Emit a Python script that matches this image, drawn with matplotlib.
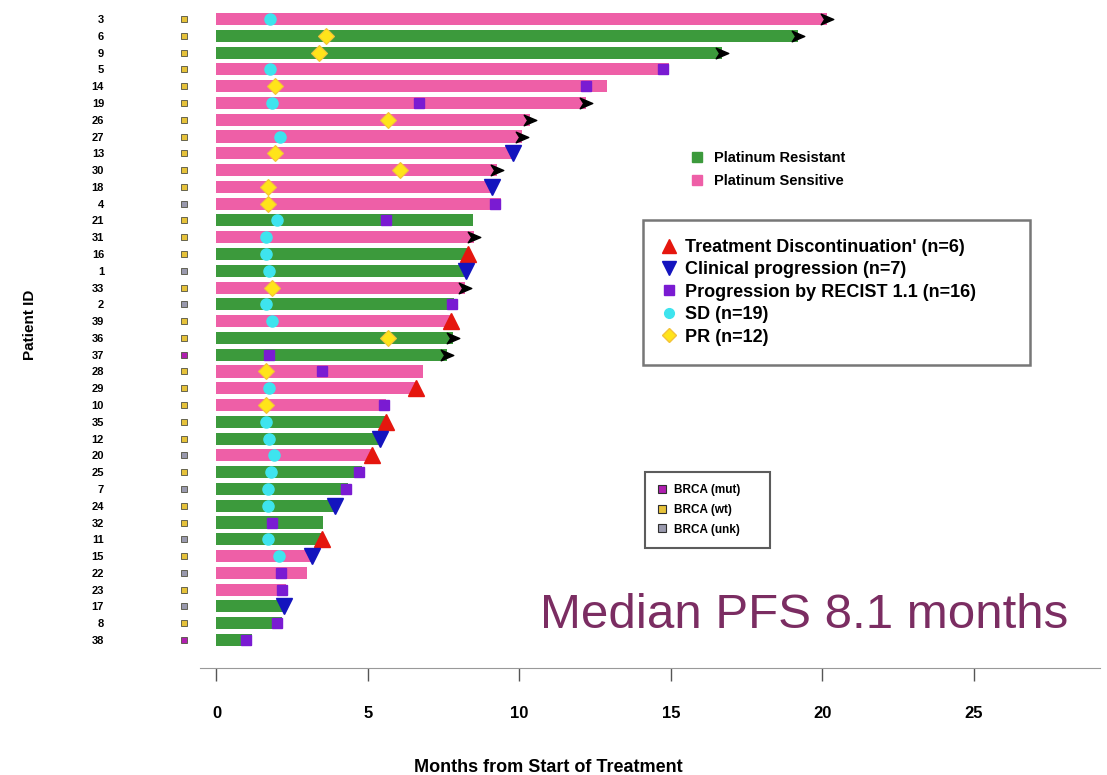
import numpy as np
import matplotlib
matplotlib.use("Agg")
import matplotlib.pyplot as plt
from matplotlib.lines import Line2D
from matplotlib.path import Path

plt.rcParams['font.family'] = ['Liberation Sans', 'DejaVu Sans']

nan = np.nan

# Swimmer data, one entry per patient, ordered top to bottom
patient_ids = [3, 6, 9, 5, 14, 19, 26, 27, 13, 30, 18, 4, 21, 31, 16, 1, 33, 2, 39,
               36, 37, 28, 29, 10, 35, 12, 20, 25, 7, 24, 32, 11, 15, 22, 23, 17, 8, 38]
platinum = ['S', 'R', 'R', 'S', 'S', 'S', 'S', 'S', 'S', 'S', 'S', 'S', 'R', 'S', 'R', 'R', 'S', 'R', 'S',
            'R', 'R', 'S', 'S', 'S', 'R', 'R', 'S', 'R', 'R', 'R', 'R', 'R', 'S', 'S', 'S', 'R', 'R', 'R']
pfs_months = [20.15, 19.2, 16.7, 14.95, 12.9, 12.2, 10.35, 10.1, 9.8, 9.25, 9.1, 9.4, 8.47, 8.5, 8.3,
              8.25, 8.2, 7.85, 7.73, 7.8, 7.6, 6.8, 6.6, 5.6, 5.6, 5.4, 5.13, 4.8, 4.35, 3.9, 3.5,
              3.47, 3.15, 3.0, 2.3, 2.23, 2.15, 1.17]
brca = ['wt', 'wt', 'wt', 'wt', 'wt', 'wt', 'wt', 'wt', 'wt', 'wt', 'wt', 'unk', 'wt', 'wt', 'wt',
        'unk', 'wt', 'unk', 'wt', 'wt', 'mut', 'wt', 'wt', 'wt', 'wt', 'wt', 'unk', 'wt', 'unk',
        'wt', 'wt', 'unk', 'wt', 'unk', 'wt', 'unk', 'wt', 'mut']
sd_month = [1.77, nan, nan, 1.77, nan, 1.83, nan, 2.1, nan, nan, nan, nan, 2.0, 1.65, 1.65, 1.73,
            nan, 1.65, 1.83, nan, nan, nan, 1.73, nan, 1.65, 1.73, 1.9, 1.8, 1.7, 1.7, nan, 1.7,
            2.07, nan, nan, nan, nan, nan]
pr_month = [nan, 3.6, 3.4, nan, 1.93, nan, 5.66, nan, 1.93, 6.06, 1.7, 1.7, nan, nan, nan, nan,
            1.83, nan, nan, 5.66, nan, 1.63, nan, 1.63, nan, nan, nan, nan, nan, nan, nan, nan,
            nan, nan, nan, nan, nan, nan]
recist_month = [nan, nan, nan, 14.75, 12.2, 6.7, nan, nan, nan, nan, nan, 9.2, 5.6, nan, nan, nan,
                nan, 7.77, nan, nan, 1.73, 3.48, nan, 5.53, nan, nan, nan, 4.7, 4.27, nan, 1.83,
                nan, nan, 2.13, 2.15, nan, 2.0, 0.97]
discontinued_month = [nan] * 14 + [8.3] + [nan] * 3 + [7.73] + [nan] * 3 + [6.6] + [nan] + [5.6] + \
                     [nan] + [5.13] + [nan] * 4 + [3.47] + [nan] * 6
clinical_month = [nan] * 8 + [9.8] + [nan] + [9.1] + [nan] * 4 + [8.25] + [nan] * 9 + [5.4] + \
                 [nan] * 3 + [3.9] + [nan] * 2 + [3.15] + [nan] * 2 + [2.23] + [nan] * 2
ongoing = [1, 1, 1, 0, 0, 1, 1, 1, 0, 1, 0, 0, 0, 1, 0, 0, 1, 0, 0, 1, 1, 0, 0, 0, 0, 0, 0, 0, 0,
           0, 0, 0, 0, 0, 0, 0, 0, 0]

n_events = {'disc': 6, 'clin': 7, 'recist': 16, 'sd': 19, 'pr': 12}
x_ticks = [0, 5, 10, 15, 20, 25]

PINK = '#EE5FA7'
GREEN = '#3C9A3C'
SD_COL = '#3EE4EE'
PR_COL = '#FFE41A'
PURPLE = '#7A1BD2'
RED = '#E5160E'
BLUE = '#1414BE'
BRCA_COL = {'mut': '#B01FB0', 'wt': '#E6C23A', 'unk': '#9A9AAE'}

# notched arrowhead for patients still on treatment
arrow_marker = Path([(-1.0, -0.85), (1.0, 0.0), (-1.0, 0.85), (-0.45, 0.0), (-1.0, -0.85)],
                    [Path.MOVETO, Path.LINETO, Path.LINETO, Path.LINETO, Path.CLOSEPOLY])

fig = plt.figure(figsize=(11.07, 7.75), dpi=100)
ax = fig.add_axes([168 / 1107, 1 - 668 / 775, (1100 - 168) / 1107, (668 - 9) / 775])

rows = np.arange(len(patient_ids))
bar_colors = [GREEN if p == 'R' else PINK for p in platinum]
ax.barh(rows, pfs_months, height=0.72, color=bar_colors, left=0, zorder=1)

pfs = np.array(pfs_months)
on = np.array(ongoing, dtype=bool)
ax.plot(pfs[on], rows[on], ls='none', marker=arrow_marker, ms=9, color='black', zorder=4)

ax.plot(sd_month, rows, ls='none', marker='o', ms=8, color=SD_COL, mec=SD_COL, zorder=3)
ax.plot(pr_month, rows, ls='none', marker='D', ms=8, color=PR_COL, mec='#F3C23A', mew=0.8, zorder=3)
ax.plot(recist_month, rows, ls='none', marker='s', ms=7.5, color=PURPLE, zorder=4)
ax.plot(discontinued_month, rows, ls='none', marker='^', ms=11, color=RED, zorder=4)
ax.plot(clinical_month, rows, ls='none', marker='v', ms=11, color=BLUE, zorder=4)

# BRCA status column
for status in ('mut', 'wt', 'unk'):
    idx = [i for i, b in enumerate(brca) if b == status]
    ax.plot([-1.07] * len(idx), idx, ls='none', marker='s', ms=4.0,
            color=BRCA_COL[status], mec='#505040', mew=0.6, zorder=3)

ax.set_xlim(-1.6, 29.16)
ax.set_ylim(38.67, -0.6)
ax.set_xticks(x_ticks)
ax.set_xticklabels([str(t) for t in x_ticks], fontsize=12, fontweight='bold')
ax.tick_params(axis='x', length=9, width=1, color='#555555', pad=18)
ax.set_yticks(rows)
ax.set_yticklabels([str(p) for p in patient_ids], fontsize=8, fontweight='bold')
ax.tick_params(axis='y', length=0, pad=46)
for s in ('left', 'top', 'right'):
    ax.spines[s].set_visible(False)
ax.spines['bottom'].set_color('#999999')
ax.spines['bottom'].set_bounds(-0.55, 29.16)

fig.text(548 / 1107, 1 - 768 / 775, 'Months from Start of Treatment', ha='center', va='center',
         fontsize=13, fontweight='bold')
fig.text(30 / 1107, 1 - 325 / 775, 'Patient ID', ha='center', va='center', rotation=90,
         fontsize=11, fontweight='bold')
fig.text(540 / 1107, 1 - 616 / 775, 'Median PFS 8.1 months', ha='left', va='center',
         fontsize=35.5, color='#7B2D62')

# platinum status legend
plat_handles = [Line2D([], [], ls='none', marker='s', ms=7, color=GREEN),
                Line2D([], [], ls='none', marker='s', ms=7, color=PINK)]
fig.legend(plat_handles, ['Platinum Resistant', 'Platinum Sensitive'],
           loc='upper left', bbox_to_anchor=(680 / 1107, 1 - 141 / 775), frameon=False,
           prop={'size': 10.5, 'weight': 'bold'}, handlelength=1.0, handletextpad=0.6,
           labelspacing=0.62, borderpad=0.2)

# event legend
ev_handles = [Line2D([], [], ls='none', marker='^', ms=10, color=RED),
              Line2D([], [], ls='none', marker='v', ms=10, color=BLUE),
              Line2D([], [], ls='none', marker='s', ms=7, color=PURPLE),
              Line2D([], [], ls='none', marker='o', ms=7, color=SD_COL),
              Line2D([], [], ls='none', marker='D', ms=7, color=PR_COL, mec='#F3C23A')]
ev_labels = ["Treatment Discontinuation' (n=%d)" % n_events['disc'],
             'Clinical progression (n=%d)' % n_events['clin'],
             'Progression by RECIST 1.1 (n=%d)' % n_events['recist'],
             'SD (n=%d)' % n_events['sd'],
             'PR (n=%d)' % n_events['pr']]
leg = fig.legend(ev_handles, ev_labels, loc='upper left',
                 bbox_to_anchor=(643 / 1107, 1 - 220 / 775 - 0.01, (1030 - 643) / 1107, 0.01),
                 mode='expand', frameon=True, fancybox=False,
                 prop={'size': 13, 'weight': 'bold'}, handlelength=0.8, handletextpad=0.45,
                 labelspacing=0.3, borderpad=1.05, borderaxespad=0)
leg.get_frame().set_edgecolor('#555555')
leg.get_frame().set_linewidth(1.8)

# BRCA legend
brca_handles = [Line2D([], [], ls='none', marker='s', ms=6, color=BRCA_COL[k], mec='#303030', mew=0.8)
                for k in ('mut', 'wt', 'unk')]
leg2 = fig.legend(brca_handles, ['BRCA (mut)', 'BRCA (wt)', 'BRCA (unk)'], loc='upper left',
                  bbox_to_anchor=(645 / 1107, 1 - 472 / 775 - 0.01, (770 - 645) / 1107, 0.01),
                  mode='expand', frameon=True, fancybox=False,
                  prop={'size': 8.5, 'weight': 'bold'}, handlelength=0.8, handletextpad=0.6,
                  labelspacing=0.64, borderpad=1.05, borderaxespad=0)
leg2.get_frame().set_edgecolor('#333333')
leg2.get_frame().set_linewidth(1.5)

fig.savefig('out.png', dpi=100)
